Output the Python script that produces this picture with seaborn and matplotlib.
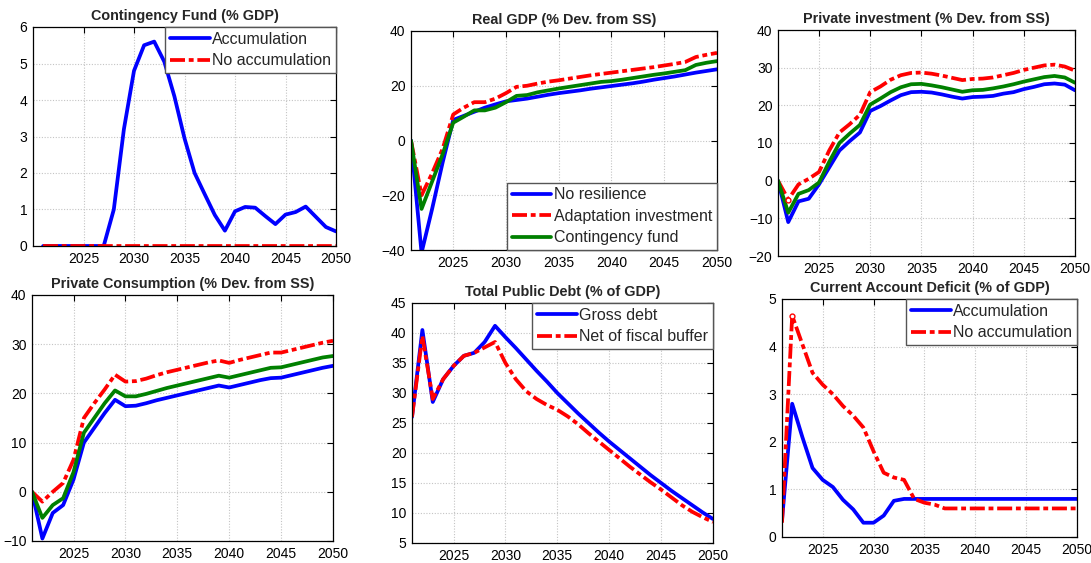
import numpy as np
import pandas as pd
import matplotlib
matplotlib.use("Agg")
import matplotlib.pyplot as plt
import seaborn as sns

years = list(range(2021, 2051))

# Contingency fund (% GDP)
fund_accum = [0, 0, 0, 0, 0, 0, 0, 1.0, 3.2, 4.8, 5.5, 5.6, 5.05, 4.1, 2.95,
              2.0, 1.42, 0.85, 0.42, 0.95, 1.07, 1.05, 0.82, 0.6, 0.86, 0.93,
              1.08, 0.8, 0.52, 0.4]
fund_noaccum = [0] * 30

# Real GDP (% dev. from SS)
gdp_nores = [0, -41, -25, -8, 7.5, 9, 10.5, 12, 13.2, 14.3, 14.8, 15.3, 16,
             16.7, 17.3, 17.8, 18.3, 18.9, 19.4, 19.9, 20.4, 20.9, 21.5, 22.2,
             22.8, 23.4, 24.1, 24.8, 25.4, 26]
gdp_adapt = [0, -20, -12, -3, 9.5, 12, 14, 14, 15.3, 17.3, 19.6, 20, 20.8,
             21.5, 22, 22.6, 23.2, 23.8, 24.3, 24.8, 25.3, 25.8, 26.3, 26.8,
             27.4, 28, 28.7, 30.5, 31.3, 32]
gdp_fund = [0, -25, -15, -5, 6.5, 8.7, 11, 11, 12, 14, 16.3, 16.6, 17.6, 18.3,
            19, 19.6, 20.2, 20.8, 21.4, 21.7, 22.2, 22.8, 23.4, 24, 24.5,
            25.1, 25.7, 27.6, 28.4, 29]

# Private investment (% dev. from SS)
inv_nores = [0, -11, -5.5, -4.8, -1, 3.5, 8, 10.5, 12.8, 18.5, 19.8, 21.3,
             22.7, 23.5, 23.6, 23.4, 22.9, 22.3, 21.8, 22.2, 22.3, 22.5, 23.1,
             23.5, 24.3, 24.9, 25.6, 25.8, 25.5, 24]
inv_adapt = [0, -5, -1, 0.5, 2.3, 8, 12.8, 15, 17.5, 23.5, 25, 26.8, 28, 28.6,
             28.7, 28.4, 27.9, 27.3, 26.7, 27, 27.1, 27.4, 28, 28.6, 29.4, 30,
             30.6, 30.8, 30.3, 29.2]
inv_fund = [0, -8.5, -3.5, -2.5, -0.5, 5, 10, 12.5, 14.8, 20.2, 21.8, 23.5,
            24.8, 25.6, 25.7, 25.3, 24.8, 24.2, 23.6, 24, 24.1, 24.5, 25, 25.6,
            26.3, 26.9, 27.5, 27.8, 27.4, 26]

# Private consumption (% dev. from SS)
cons_nores = [0, -9.5, -4.3, -2.7, 2.5, 10, 13, 16, 18.7, 17.4, 17.5, 18,
              18.6, 19.1, 19.6, 20.1, 20.6, 21.1, 21.6, 21.2, 21.7, 22.2, 22.7,
              23.1, 23.2, 23.7, 24.2, 24.7, 25.2, 25.6]
cons_adapt = [0, -2, 0, 1.8, 6.5, 15, 18, 20.8, 23.8, 22.4, 22.5, 23, 23.7,
              24.3, 24.8, 25.3, 25.8, 26.3, 26.7, 26.2, 26.8, 27.3, 27.8, 28.3,
              28.3, 28.8, 29.3, 29.8, 30.3, 30.7]
cons_fund = [0, -5.3, -2.7, -1.3, 4, 12, 15, 18, 20.6, 19.4, 19.4, 19.9, 20.5,
             21.1, 21.6, 22.1, 22.6, 23.1, 23.6, 23.2, 23.7, 24.2, 24.7, 25.2,
             25.3, 25.8, 26.3, 26.8, 27.3, 27.6]

# Total public debt (% of GDP)
debt_gross = [26, 40.5, 28.5, 32.3, 34.5, 36.2, 36.7, 38.5, 41.2, 39.3, 37.5,
              35.6, 33.7, 31.9, 30, 28.3, 26.6, 25, 23.4, 21.9, 20.5, 19.1,
              17.7, 16.3, 15, 13.7, 12.5, 11.3, 10.1, 9]
debt_net = [26, 39.5, 29, 32.3, 34.5, 36.2, 36.7, 37.6, 38.5, 35, 32.3, 30.3,
            29, 28, 27.2, 26.1, 24.8, 23.3, 21.9, 20.5, 19.1, 17.7, 16.4, 15.1,
            13.9, 12.6, 11.3, 10.2, 9.3, 8.5]

# Current account deficit (% of GDP)
cad_accum = [0.35, 2.8, 2.1, 1.45, 1.2, 1.05, 0.78, 0.58, 0.3, 0.3, 0.45, 0.76,
             0.8] + [0.8] * 17
cad_noaccum = [0.3, 4.65, 4.05, 3.45, 3.2, 3.0, 2.75, 2.55, 2.3, 1.8, 1.35,
               1.25, 1.2, 0.8, 0.72, 0.68, 0.6] + [0.6] * 13

sns.set_style("white")
plt.rcParams["font.family"] = ["Liberation Sans", "DejaVu Sans"]
plt.rcParams["axes.linewidth"] = 0.9

BLUE, RED, GREEN = "#0000ff", "#ff0000", "#008000"
LW = 2.7
DASH = (0, (4.0, 1.0, 1.3, 1.0))
LEG_FONT = {"family": ["Liberation Sans Narrow", "Liberation Sans"], "size": 11.5}

fig = plt.figure(figsize=(10.91, 5.63), dpi=100)
W, H = 1091, 563


def add_axes(x0, y0, x1, y1):
    return fig.add_axes([x0 / W, 1 - y1 / H, (x1 - x0) / W, (y1 - y0) / H])


def style(ax, title, ylim, yticks, xlim=(2021, 2050)):
    ax.set_xlim(*xlim)
    ax.set_ylim(*ylim)
    ax.set_xticks(range(2025, 2051, 5))
    ax.set_yticks(yticks)
    ax.set_xlabel("")
    ax.set_ylabel("")
    ax.grid(True, color="#c4c4c4", linestyle=(0, (1, 1.5)), linewidth=0.8)
    ax.set_axisbelow(True)
    ax.tick_params(direction="in", length=4, width=0.8, top=True, right=True,
                   labelsize=10, colors="black", pad=4)
    for s in ax.spines.values():
        s.set_color("black")
        s.set_visible(True)
    ax.set_title(title, fontsize=10.4, fontweight="bold", pad=5)


def line(ax, y, color, label, dashed=False):
    df = pd.DataFrame({"year": years, "value": y})
    kw = {"linestyle": DASH} if dashed else {}
    sns.lineplot(data=df, x="year", y="value", ax=ax, color=color,
                 linewidth=LW, label=label, legend=False, **kw)


def legend(ax, loc):
    leg = ax.legend(loc=loc, prop=LEG_FONT, frameon=True, fancybox=False,
                    edgecolor="#555555", borderaxespad=0, handlelength=2.5,
                    handletextpad=0.15, borderpad=0.3, labelspacing=0.4,
                    framealpha=1)
    leg.get_frame().set_linewidth(1.0)


# Contingency fund
ax1 = add_axes(33, 27, 336, 246)
line(ax1, fund_accum, BLUE, "Accumulation")
line(ax1, fund_noaccum, RED, "No accumulation", dashed=True)
style(ax1, "Contingency Fund (% GDP)", (0, 6), range(0, 7), xlim=(2020, 2050))
legend(ax1, "upper right")

# Real GDP
ax2 = add_axes(411, 31, 717, 250)
line(ax2, gdp_nores, BLUE, "No resilience")
line(ax2, gdp_adapt, RED, "Adaptation investment", dashed=True)
line(ax2, gdp_fund, GREEN, "Contingency fund")
style(ax2, "Real GDP (% Dev. from SS)", (-40, 40), range(-40, 41, 20))
legend(ax2, "lower right")

# Private investment
ax3 = add_axes(778, 30, 1075, 256)
line(ax3, inv_nores, BLUE, "No resilience")
line(ax3, inv_adapt, RED, "Adaptation investment", dashed=True)
line(ax3, inv_fund, GREEN, "Contingency fund")
ax3.plot(years[1], inv_adapt[1], "o", ms=3.5, mfc="white", mec=RED, mew=1)
style(ax3, "Private investment (% Dev. from SS)", (-20, 40), range(-20, 41, 10))

# Private consumption
ax4 = add_axes(32, 295, 333, 541)
line(ax4, cons_nores, BLUE, "No resilience")
line(ax4, cons_adapt, RED, "Adaptation investment", dashed=True)
line(ax4, cons_fund, GREEN, "Contingency fund")
style(ax4, "Private Consumption (% Dev. from SS)", (-10, 40), range(-10, 41, 10))

# Total public debt
ax5 = add_axes(412, 303, 713, 543)
line(ax5, debt_gross, BLUE, "Gross debt")
line(ax5, debt_net, RED, "Net of fiscal buffer", dashed=True)
style(ax5, "Total Public Debt (% of GDP)", (5, 45), range(5, 46, 5))
legend(ax5, "upper right")

# Current account deficit
ax6 = add_axes(782, 299, 1077, 537)
line(ax6, cad_accum, BLUE, "Accumulation")
line(ax6, cad_noaccum, RED, "No accumulation", dashed=True)
ax6.plot(years[1], cad_noaccum[1], "o", ms=3.5, mfc="white", mec=RED, mew=1)
style(ax6, "Current Account Deficit (% of GDP)", (0, 5), range(0, 6))
legend(ax6, "upper right")

fig.savefig("out.png", dpi=100, facecolor="white")
